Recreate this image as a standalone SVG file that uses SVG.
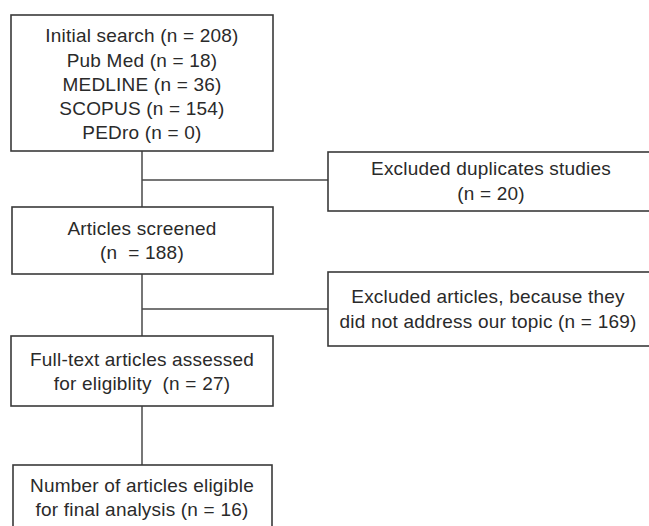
<svg xmlns="http://www.w3.org/2000/svg" width="649" height="526" viewBox="0 0 649 526">
<style>
.box{fill:#fff;stroke:#3a3a3a;stroke-width:1.6}
.t{font-family:"Liberation Sans",Arial,sans-serif;font-size:19px;letter-spacing:0.2px;fill:#2a2a2a;text-anchor:middle}
.c{fill:none;stroke:#4a4a4a;stroke-width:1.5}
</style>
<rect width="649" height="526" fill="#fff"/>
<g id="connectors">
<path class="c" d="M142 151V207M142 180H328"/>
<path class="c" d="M142 274V336M142 309H328"/>
<path class="c" d="M142 406V465"/>
</g>
<g id="initial">
<rect class="box" x="11" y="15" width="262" height="136"/>
<text class="t" x="142" y="42">Initial search (n = 208)</text>
<text class="t" x="142" y="66.5">Pub Med (n = 18)</text>
<text class="t" x="142" y="91">MEDLINE (n = 36)</text>
<text class="t" x="142" y="115">SCOPUS (n = 154)</text>
<text class="t" x="142" y="139">PEDro (n = 0)</text>
</g>
<g id="excluded-duplicates">
<rect class="box" x="328" y="152" width="330" height="59"/>
<text class="t" x="491" y="175">Excluded duplicates studies</text>
<text class="t" x="491" y="200">(n = 20)</text>
</g>
<g id="screened">
<rect class="box" x="12" y="207" width="261" height="67"/>
<text class="t" x="142" y="235">Articles screened</text>
<text class="t" x="142" y="259" xml:space="preserve">(n  = 188)</text>
</g>
<g id="excluded-articles">
<rect class="box" x="328" y="272" width="330" height="74"/>
<text class="t" x="488" y="303">Excluded articles, because they</text>
<text class="t" x="488" y="328">did not address our topic (n = 169)</text>
</g>
<g id="fulltext">
<rect class="box" x="11" y="336" width="262" height="70"/>
<text class="t" x="142" y="366">Full-text articles assessed</text>
<text class="t" x="142" y="390" xml:space="preserve">for eligiblity  (n = 27)</text>
</g>
<g id="final">
<rect class="box" x="13" y="465" width="259" height="70"/>
<text class="t" x="142" y="492">Number of articles eligible</text>
<text class="t" x="142" y="516">for final analysis (n = 16)</text>
</g>
</svg>
